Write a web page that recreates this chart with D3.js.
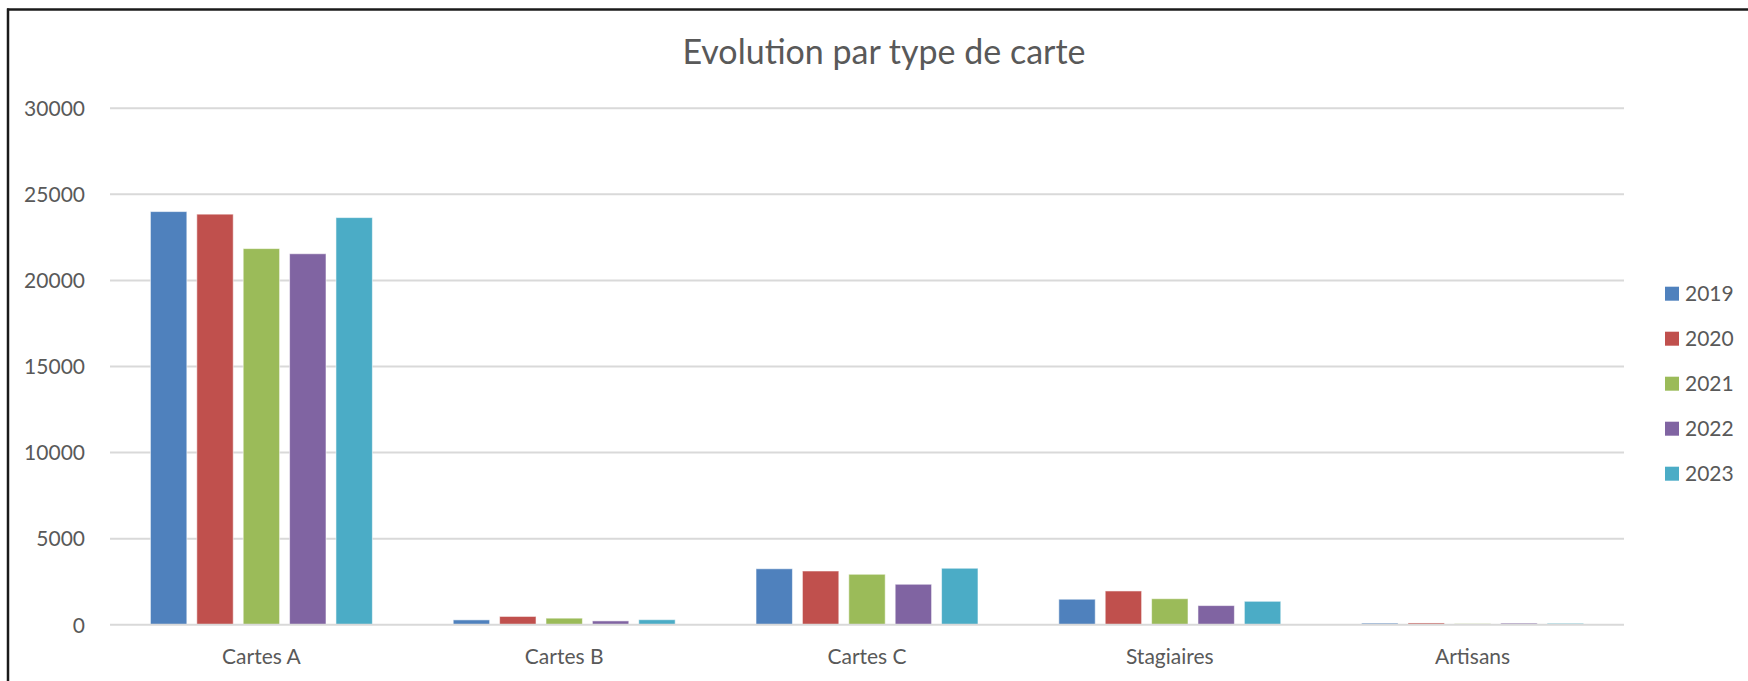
<!DOCTYPE html>
<html>
<head>
<meta charset="utf-8">
<script src="https://cdn.jsdelivr.net/npm/d3@7"></script>
<style>
  html, body { margin: 0; padding: 0; background: #fff; }
  svg { display: block; }
  text { font-family: Lato, "Open Sans", sans-serif; fill: #595959; }
</style>
</head>
<body>
<svg id="chart" width="1748" height="681"></svg>
<script>
const title = "Evolution par type de carte";
const categories = ["Cartes A", "Cartes B", "Cartes C", "Stagiaires", "Artisans"];
const years = ["2019", "2020", "2021", "2022", "2023"];
const values2019 = [24000, 280, 3250, 1480, 90];
const values2020 = [23850, 480, 3120, 1960, 100];
const values2021 = [21850, 380, 2930, 1510, 60];
const values2022 = [21550, 220, 2350, 1110, 90];
const values2023 = [23650, 290, 3280, 1360, 80];
const yTicks = [0, 5000, 10000, 15000, 20000, 25000, 30000];
const colors = ["#4F81BD", "#C0504D", "#9BBB59", "#8064A2", "#4BACC6"];

const seriesValues = [values2019, values2020, values2021, values2022, values2023];
const data = categories.map((c, i) => ({
  category: c,
  values: years.map((y, j) => ({ year: y, value: seriesValues[j][i] }))
}));

const svg = d3.select("#chart");
const W = 1748, H = 681;
const plot = { left: 110, right: 1624, top: 108.3, bottom: 624.7 };

// outer frame (only left and top edges are visible)
svg.append("line").attr("x1", 7).attr("x2", W).attr("y1", 9.5).attr("y2", 9.5)
  .attr("stroke", "#1a1a1a").attr("stroke-width", 2.5);
svg.append("line").attr("x1", 8).attr("x2", 8).attr("y1", 8.5).attr("y2", H)
  .attr("stroke", "#1a1a1a").attr("stroke-width", 2.5);

const x0 = d3.scaleBand().domain(categories).range([plot.left, plot.right])
  .paddingInner(0.267).paddingOuter(0.1335);
const x1 = d3.scaleBand().domain(years).range([0, x0.bandwidth()])
  .paddingInner(0.215).paddingOuter(0);
const y = d3.scaleLinear().domain([0, 30000]).range([plot.bottom, plot.top]);

// gridlines
const grid = svg.append("g");
grid.selectAll("line").data(yTicks.filter(t => t !== 0)).join("line")
  .attr("x1", plot.left).attr("x2", plot.right)
  .attr("y1", d => y(d)).attr("y2", d => y(d))
  .attr("stroke", "#d9d9d9").attr("stroke-width", 2);

// y axis labels
const yAxis = svg.append("g").attr("transform", `translate(${plot.left - 25},0)`)
  .call(d3.axisLeft(y).tickValues(yTicks).tickSize(0).tickPadding(0).tickFormat(d3.format("d")));
yAxis.select(".domain").remove();
yAxis.selectAll("text").attr("font-size", 21).attr("fill", "#595959")
  .attr("font-family", "Lato, sans-serif").attr("dy", "0.35em").attr("text-anchor", "end");

// bars
const groups = svg.append("g").selectAll("g").data(data).join("g")
  .attr("transform", d => `translate(${x0(d.category)},0)`);
groups.selectAll("rect").data(d => d.values).join("rect")
  .attr("x", d => x1(d.year))
  .attr("width", x1.bandwidth())
  .attr("y", d => y(d.value))
  .attr("height", d => y(0) - y(d.value))
  .attr("fill", (d, i) => colors[i])
  .attr("stroke", "rgba(255,255,255,0.55)")
  .attr("stroke-width", 1);

// baseline
svg.append("line").attr("x1", plot.left).attr("x2", plot.right)
  .attr("y1", y(0)).attr("y2", y(0)).attr("stroke", "#d9d9d9").attr("stroke-width", 2);

// x axis labels
const xAxis = svg.append("g").attr("transform", `translate(0,${y(0)})`)
  .call(d3.axisBottom(x0).tickSize(0).tickPadding(0));
xAxis.select(".domain").remove();
xAxis.selectAll("text").attr("font-size", 21).attr("fill", "#595959")
  .attr("font-family", "Lato, sans-serif").attr("dy", null).attr("y", 39.6);

// title
svg.append("text").attr("x", 884).attr("y", 64.3).attr("text-anchor", "middle")
  .attr("font-size", 34).text(title);

// legend
const legend = svg.append("g").attr("transform", "translate(1665,293.7)");
const li = legend.selectAll("g").data(years).join("g")
  .attr("transform", (d, i) => `translate(0,${i * 45})`);
li.append("rect").attr("x", 0).attr("y", -7).attr("width", 14).attr("height", 14)
  .attr("fill", (d, i) => colors[i]);
li.append("text").attr("x", 20).attr("y", 0).attr("dy", "0.35em")
  .attr("font-size", 21).text(d => d);
</script>
</body>
</html>
